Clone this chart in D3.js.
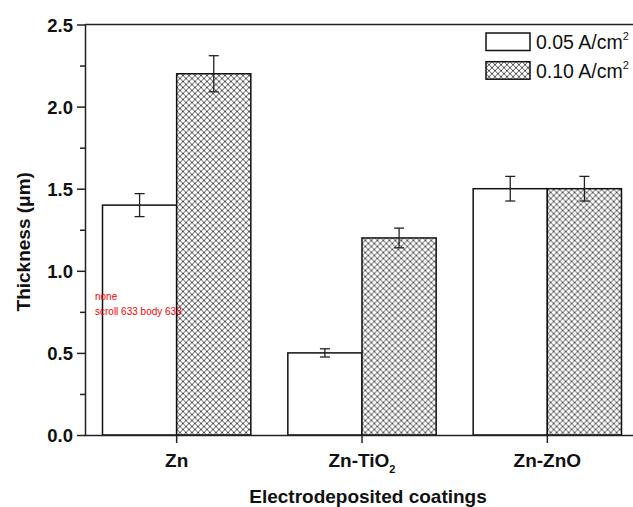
<!DOCTYPE html>
<html>
<head>
<meta charset="utf-8">
<script src="https://cdn.jsdelivr.net/npm/d3@7"></script>
<style>
  body { margin: 0; background: #fff; overflow: hidden; }
  svg { display: block; font-family: Arial, "Liberation Sans", sans-serif; }
</style>
</head>
<body>
<div id="wrapper"></div>
<script>
const categories = ['Zn', 'Zn-TiO2', 'Zn-ZnO'];
const series = ['0.05', '0.10'];
const lowCurrent = [1.40, 0.50, 1.50];
const lowError = [0.07, 0.025, 0.075];
const highCurrent = [2.20, 1.20, 1.50];
const highError = [0.11, 0.06, 0.075];
const yTicks = [0.0, 0.5, 1.0, 1.5, 2.0, 2.5];
const yMinorTicks = [0.25, 0.75, 1.25, 1.75, 2.25];

const data = categories.map((c, i) => ({
  category: c,
  values: [
    { key: '0.05', value: lowCurrent[i], err: lowError[i] },
    { key: '0.10', value: highCurrent[i], err: highError[i] }
  ]
}));

const dimensions = {
  width: 633,
  height: 507,
  margins: { top: 24.5, right: -7, bottom: 72, left: 85 }
};
dimensions.boundedWidth = dimensions.width - dimensions.margins.left - dimensions.margins.right;
dimensions.boundedHeight = dimensions.height - dimensions.margins.top - dimensions.margins.bottom;

const wrapper = d3.select('#wrapper')
  .append('svg')
    .attr('width', dimensions.width)
    .attr('height', dimensions.height);

const defs = wrapper.append('defs');
const pattern = defs.append('pattern')
    .attr('id', 'hatch')
    .attr('patternUnits', 'userSpaceOnUse')
    .attr('width', 6)
    .attr('height', 6);
pattern.append('rect').attr('width', 6).attr('height', 6).attr('fill', '#fff');
pattern.append('path')
    .attr('d', 'M0,0 L6,6 M6,0 L0,6 M-1,5 L1,7 M5,-1 L7,1 M-1,1 L1,-1 M5,7 L7,5')
    .attr('stroke', '#555')
    .attr('stroke-width', 1);

const bounds = wrapper.append('g')
    .attr('transform', `translate(${dimensions.margins.left},${dimensions.margins.top})`);

const yScale = d3.scaleLinear()
  .domain([0, 2.5])
  .range([dimensions.boundedHeight, 0]);

const xScale = d3.scaleBand()
  .domain(categories)
  .range([-1, dimensions.boundedWidth])
  .padding(0);

const bw = xScale.bandwidth();
const x1 = d3.scaleBand()
  .domain(series)
  .range([18.5, bw - 18.5])
  .padding(0);

const fillFor = k => k === '0.05' ? '#fff' : 'url(#hatch)';

const groups = bounds.selectAll('.group')
  .data(data)
  .join('g')
    .attr('class', 'group')
    .attr('transform', d => `translate(${xScale(d.category)},0)`);

groups.selectAll('rect')
  .data(d => d.values)
  .join('rect')
    .attr('x', d => x1(d.key))
    .attr('width', x1.bandwidth())
    .attr('y', d => yScale(d.value))
    .attr('height', d => yScale(0) - yScale(d.value))
    .attr('fill', d => fillFor(d.key))
    .attr('stroke', '#111')
    .attr('stroke-width', 1.5);

const errG = groups.selectAll('.err')
  .data(d => d.values)
  .join('g')
    .attr('class', 'err')
    .attr('stroke', '#222')
    .attr('stroke-width', 1.3);
errG.append('line')
    .attr('x1', d => x1(d.key) + x1.bandwidth() / 2)
    .attr('x2', d => x1(d.key) + x1.bandwidth() / 2)
    .attr('y1', d => yScale(d.value + d.err))
    .attr('y2', d => yScale(d.value - d.err));
errG.selectAll('.cap')
  .data(d => [
    { cx: x1(d.key) + x1.bandwidth() / 2, y: yScale(d.value + d.err) },
    { cx: x1(d.key) + x1.bandwidth() / 2, y: yScale(d.value - d.err) }
  ])
  .join('line')
    .attr('class', 'cap')
    .attr('x1', d => d.cx - 5)
    .attr('x2', d => d.cx + 5)
    .attr('y1', d => d.y)
    .attr('y2', d => d.y);

bounds.append('line')
    .attr('x1', 0)
    .attr('x2', dimensions.boundedWidth)
    .attr('y1', 0)
    .attr('y2', 0)
    .attr('stroke', '#222')
    .attr('stroke-width', 1.5);

const yAxis = bounds.append('g')
    .call(d3.axisLeft(yScale).tickValues(yTicks).tickFormat(d3.format('.1f')).tickSize(8).tickSizeOuter(0).tickPadding(4));
bounds.append('g')
    .attr('class', 'minor')
    .call(d3.axisLeft(yScale).tickValues(yMinorTicks).tickFormat('').tickSize(5).tickSizeOuter(0))
    .call(g => g.select('.domain').remove());

const xAxis = bounds.append('g')
    .attr('transform', `translate(0,${dimensions.boundedHeight})`)
    .call(d3.axisBottom(xScale).tickSize(8).tickSizeOuter(0).tickFormat(''));

bounds.selectAll('.domain, .tick line')
    .attr('stroke', '#222')
    .attr('stroke-width', 1.5);

yAxis.selectAll('.tick text')
    .attr('font-size', 18.5)
    .attr('font-weight', 'bold')
    .attr('fill', '#111')
    .attr('dy', '0.36em');

xAxis.selectAll('.tick').each(function(d) {
  const t = d3.select(this).append('text')
      .attr('y', 32)
      .attr('text-anchor', 'middle')
      .attr('font-size', 19)
      .attr('font-weight', 'bold')
      .attr('fill', '#111');
  if (d === 'Zn-TiO2') {
    t.append('tspan').text('Zn-TiO');
    t.append('tspan').text('2').attr('font-size', 11).attr('dy', 6);
  } else {
    t.text(d);
  }
});

wrapper.append('text')
    .attr('transform', `translate(30,${dimensions.margins.top + dimensions.boundedHeight / 2 + 12}) rotate(-90)`)
    .attr('text-anchor', 'middle')
    .attr('font-size', 19)
    .attr('font-weight', 'bold')
    .attr('fill', '#111')
    .text('Thickness (\u03bcm)');

wrapper.append('text')
    .attr('x', 368)
    .attr('y', 503)
    .attr('text-anchor', 'middle')
    .attr('font-size', 19)
    .attr('font-weight', 'bold')
    .attr('fill', '#111')
    .text('Electrodeposited coatings');

const legend = wrapper.append('g').attr('transform', 'translate(486,33)');
const legendItems = legend.selectAll('g')
  .data(series)
  .join('g')
    .attr('transform', (d, i) => `translate(0,${i * 28.7})`);
legendItems.append('rect')
    .attr('width', 44)
    .attr('height', 17.5)
    .attr('fill', d => fillFor(d))
    .attr('stroke', '#111')
    .attr('stroke-width', 1.5);
const lt = legendItems.append('text')
    .attr('x', 50)
    .attr('y', 16)
    .attr('font-size', 19.5)
    .attr('fill', '#111');
lt.append('tspan').text(d => `${d} A/cm`);
lt.append('tspan').text('2').attr('font-size', 11).attr('dy', -9);

// debug: anything whose right edge is beyond 625
const info = [];
wrapper.selectAll('svg > g *').each(function() {
  if (!this.getBBox) return;
  const r = this.getBoundingClientRect();
  if (r.right > 625 && r.height > 50) info.push(this.tagName + '.' + (this.getAttribute('class') || '') + ' L' + r.left.toFixed(0) + ' R' + r.right.toFixed(0) + ' T' + r.top.toFixed(0) + ' H' + r.height.toFixed(0));
});
wrapper.append('text').attr('x', 95).attr('y', 300).attr('font-size', 10).attr('fill', 'red').text(info.join(' | ') || 'none');
wrapper.append('text').attr('x', 95).attr('y', 315).attr('font-size', 10).attr('fill', 'red').text('scroll ' + document.documentElement.scrollWidth + ' body ' + document.body.scrollWidth);
</script>
</body>
</html>
